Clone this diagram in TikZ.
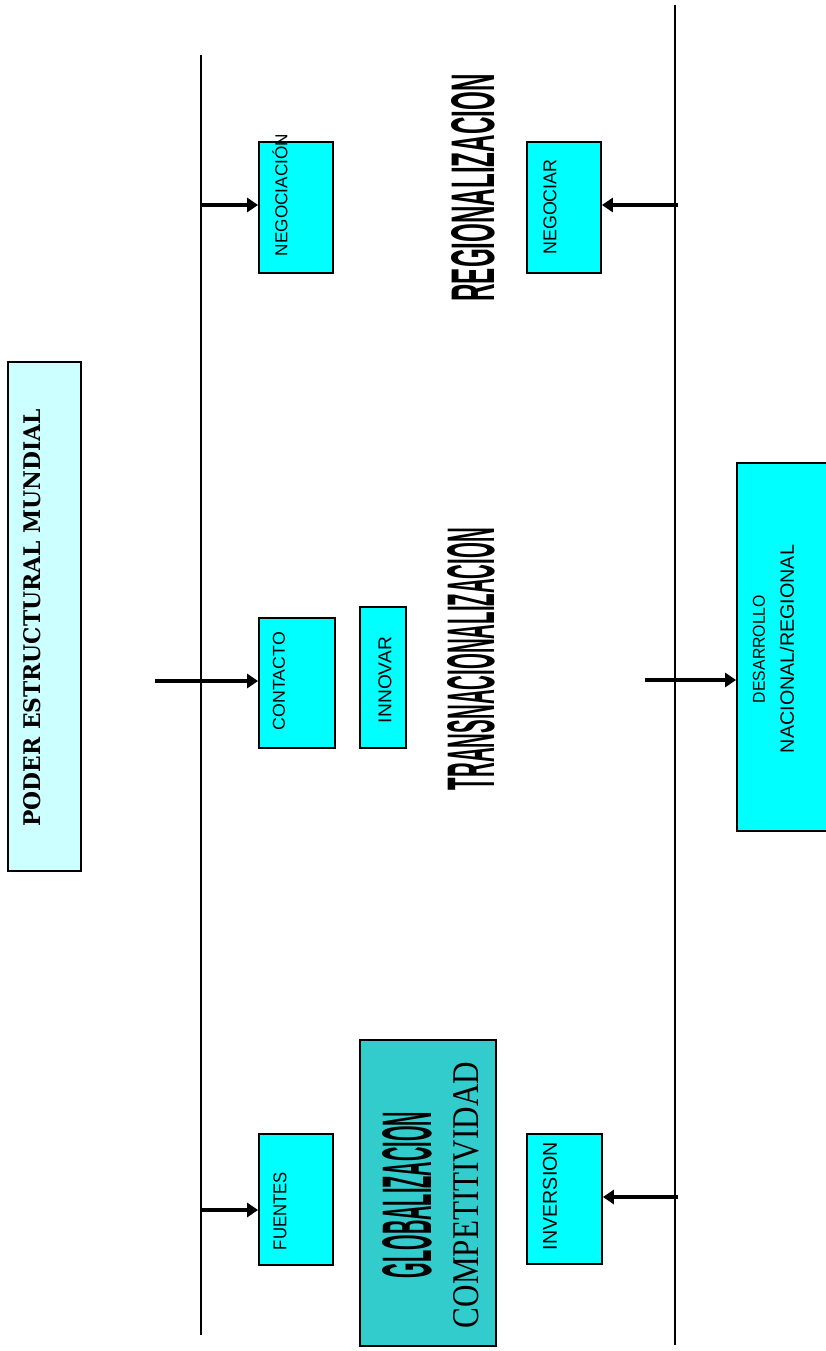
\documentclass[tikz,border=0pt]{standalone}
\usepackage{fontspec}
\setmainfont{Liberation Sans}
\newfontfamily\serifr{Liberation Serif}
\newfontfamily\slabb{DejaVu Serif}
\usetikzlibrary{arrows.meta}
\definecolor{cyanbox}{HTML}{00FFFF}
\definecolor{paleblue}{HTML}{CCFFFF}
\definecolor{tealbox}{HTML}{33CCCC}
\newcommand\fitt[3]{\resizebox{#1pt}{#2pt}{#3}}
\tikzset{
  axisline/.style={line width=1.8pt},
  box/.style={draw=black, line width=1.8pt, fill=cyanbox, inner sep=0pt, rectangle},
  lbl/.style={rotate=90, inner sep=0pt},
  arr/.style={line width=4.5pt, -{Triangle[length=11pt,width=14pt]}},
}
\begin{document}
\begin{tikzpicture}[x=1pt,y=-1pt]
\useasboundingbox (0,0) rectangle (825,1351);
\fill[white] (0,0) rectangle (825,1351);

% vertical lines
\coordinate (lt) at (201,55);
\coordinate (lb) at (201,1335);
\coordinate (rt) at (675,5);
\coordinate (rb) at (675,1345);
\draw[axisline] (lt) -- (lb);
\draw[axisline] (rt) -- (rb);

% PODER box
\node[box, fill=paleblue, minimum width=73pt, minimum height=509pt] (poder) at (44.5,616.5) {};
\node[lbl] (poderT) at (32,618) {\fitt{417}{17}{\slabb\bfseries PODER ESTRUCTURAL MUNDIAL}};

% small boxes
\node[box, minimum width=74pt, minimum height=131pt] (nego) at (296,207.5) {};
\node[lbl] (negoT) at (280,195) {\fitt{122}{15}{NEGOCIACIÓN}};

\node[box, minimum width=74pt, minimum height=131pt] (negociar) at (564,207.5) {};
\node[lbl] (negociarT) at (550,207) {\fitt{95}{13}{NEGOCIAR}};

\node[box, minimum width=76pt, minimum height=130pt] (contacto) at (297,683) {};
\node[lbl] (contactoT) at (279,681) {\fitt{98}{12}{CONTACTO}};

\node[box, minimum width=46pt, minimum height=141pt] (innovar) at (383,677.5) {};
\node[lbl] (innovarT) at (385,680) {\fitt{86}{13}{INNOVAR}};

\node[box, minimum width=74pt, minimum height=131pt] (fuentes) at (296,1199.5) {};
\node[lbl] (fuentesT) at (280,1211) {\fitt{78}{13}{FUENTES}};

\node[box, minimum width=75pt, minimum height=130pt] (inversion) at (564.5,1199) {};
\node[lbl] (inversionT) at (550,1196) {\fitt{108}{14}{INVERSION}};

% desarrollo
\node[box, minimum width=100pt, minimum height=368pt] (desarrollo) at (787,647) {};
\node[lbl] (desT1) at (759,649) {\fitt{108}{12}{DESARROLLO}};
\node[lbl] (desT2) at (787,649) {\fitt{208}{14}{NACIONAL/REGIONAL}};

% globalizacion
\node[box, fill=tealbox, minimum width=136pt, minimum height=306pt] (glob) at (428,1193) {};
\node[lbl] (globT) at (407,1195) {\fitt{166}{49}{\bfseries GLOBALIZACION}};
\node[lbl] (compT) at (466,1195) {\fitt{266}{25}{\serifr COMPETITIVIDAD}};

% big labels
\node[lbl] (regT) at (473,188) {\fitt{227}{43}{\bfseries REGIONALIZACION}};
\node[lbl] (transT) at (471,659) {\fitt{262}{47}{\bfseries TRANSNACIONALIZACION}};

% arrows
\coordinate (a1) at (201,205);
\draw[arr] (a1) -- (a1 -| nego.west);
\coordinate (a2) at (155,681);
\draw[arr] (a2) -- (a2 -| contacto.west);
\coordinate (a3) at (201,1210);
\draw[arr] (a3) -- (a3 -| fuentes.west);
\coordinate (a4) at (678,205);
\draw[arr] (a4) -- (a4 -| negociar.east);
\coordinate (a5) at (678,1197);
\draw[arr] (a5) -- (a5 -| inversion.east);
\coordinate (a6) at (645,680);
\draw[arr] (a6) -- (a6 -| desarrollo.west);
\end{tikzpicture}
\end{document}
